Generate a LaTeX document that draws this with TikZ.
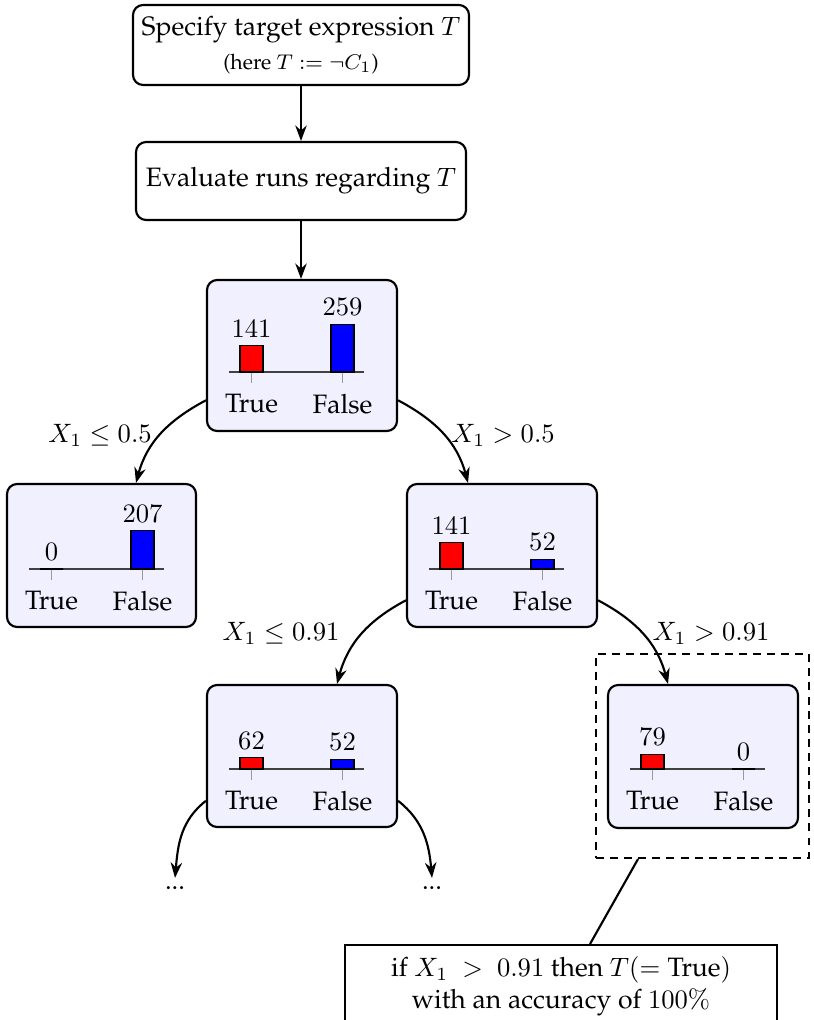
\documentclass[tikz,border=0pt]{standalone}
\usepackage[T1]{fontenc}
\usepackage{palatino}
\usetikzlibrary{arrows.meta}

% drawing unit
\newcommand{\px}{0.376pt}

% small bar chart inside a tree node: name, left edge x, baseline y, #True, #False
\newcommand{\barchart}[5]{%
  \draw[axisline] (#2+22,#3) -- (#2+157,#3);
  \draw[tickmark] (#2+44.5,#3) -- (#2+44.5,#3+11);
  \draw[tickmark] (#2+135.5,#3) -- (#2+135.5,#3+11);
  \draw[bar, fill=red]  (#2+33,#3)  rectangle (#2+56,#3-#4*0.185);
  \draw[bar, fill=blue] (#2+124,#3) rectangle (#2+147,#3-#5*0.185);
  \node (#1-vt) at (#2+44.5,#3-#4*0.185-17) {$#4$};
  \node (#1-vf) at (#2+135.5,#3-#5*0.185-17) {$#5$};
  \node (#1-t) at (#2+44.5,#3+32) {True};
  \node (#1-f) at (#2+135.5,#3+32) {False};
}

\begin{document}
\begin{tikzpicture}[x=\px,y=-\px,
  box/.style={draw, thick, rounded corners=3.8pt, align=center, inner sep=0pt},
  treenode/.style={draw, thick, rounded corners=3.8pt, fill=blue!6,
                   minimum width={190*\px}, inner sep=0pt},
  arr/.style={thick, -{Stealth[length=5.8pt,width=4.3pt]}},
  leftsplit/.style={arr, out=208, in=75},
  rightsplit/.style={arr, out=-28, in=105},
  axisline/.style={black!75, line width=0.5pt},
  tickmark/.style={black!40, line width=0.4pt},
  bar/.style={draw=black, line width=0.4pt},
  cond/.style={inner sep=1pt},
  dots/.style={inner sep=3pt},
]
\useasboundingbox (0,0) rectangle (813,1020);

% pipeline boxes
\node[box, minimum width={336*\px}, minimum height={80*\px}] (spec) at (301,45)
  {Specify target expression $T$\\[1pt]{\footnotesize (here $T := \neg C_1$)}};
\node[box, minimum width={330*\px}, minimum height={78*\px}] (eval) at (301,181)
  {Evaluate runs regarding $T$};

% decision tree nodes
\node[treenode, minimum height={151*\px}] (root) at (302,355.5) {};
\node[treenode, minimum width={189*\px}, minimum height={143*\px}] (nl) at (101.5,555.5) {};
\node[treenode, minimum height={143*\px}] (nr) at (502,555.5) {};
\node[treenode, minimum height={142*\px}] (nrl) at (302,756) {};
\node[treenode, minimum height={143*\px}] (nrr) at (703,756.5) {};

\barchart{root}{207}{372}{141}{259}
\barchart{nl}{7}{569}{0}{207}
\barchart{nr}{407}{569}{141}{52}
\barchart{nrl}{207}{769}{62}{52}
\barchart{nrr}{608}{769}{79}{0}

% continuation markers
\node[dots] (dl) at (175,888) {...};
\node[dots] (dr) at (432,888) {...};

% selected leaf and extracted rule
\node[draw, thick, dash pattern=on 3pt off 2.3pt,
      minimum width={213*\px}, minimum height={204*\px}] (sel) at (702.5,756) {};
\node[draw, thick, anchor=north, minimum width={432*\px}, inner ysep=4.4pt,
      align=center] (rule) at (561,944)
  {if $X_1~>~0.91$ then $T(=\mbox{True})$\\
   with an accuracy of $100\%$\rule[-14pt]{0pt}{0pt}};

% connectors
\draw[arr] (spec) -- (eval);
\draw[arr] (eval.south) -- (eval.south |- root.north);
\draw[leftsplit]  (root.205) to ([xshift={34.5*\px}]nl.north);
\draw[rightsplit] (root.-25) to ([xshift={-34*\px}]nr.north);
\draw[leftsplit]  (nr.205) to ([xshift={35*\px}]nrl.north);
\draw[rightsplit] (nr.-25) to ([xshift={-35*\px}]nrr.north);
\draw[arr] (nrl.205) to[out=218,in=85] (dl.north);
\draw[arr] (nrl.-25) to[out=-38,in=95] (dr.north);
\draw[thick] ([xshift={-64.5*\px}]sel.south) -- ([xshift={29*\px}]rule.north);

% split conditions
\node[cond] (c1) at (100,435) {$X_1 \le 0.5$};
\node[cond] (c2) at (503,435) {$X_1 > 0.5$};
\node[cond] (c3) at (281,633) {$X_1 \le 0.91$};
\node[cond] (c4) at (711,633) {$X_1 > 0.91$};
\end{tikzpicture}
\end{document}
